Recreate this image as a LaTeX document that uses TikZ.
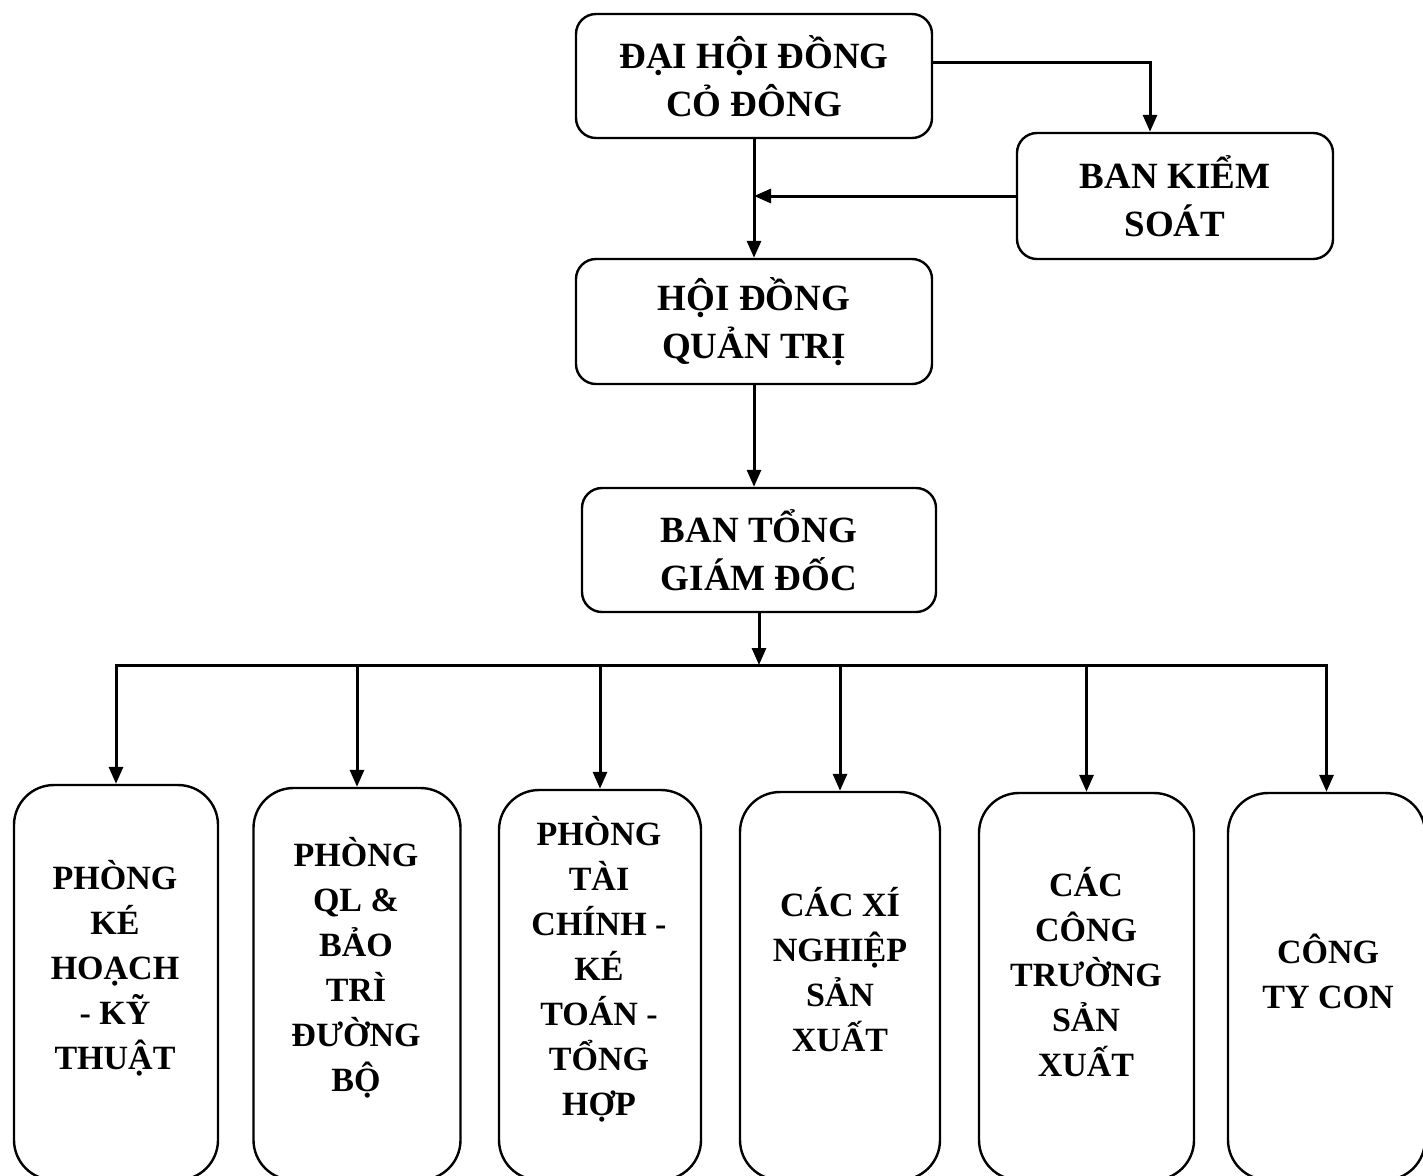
\documentclass[tikz,border=0pt]{standalone}
\usepackage{fontspec}
\setmainfont{Liberation Serif}
\usetikzlibrary{arrows.meta}
\begin{document}
\begin{tikzpicture}[x=0.5pt,y=-0.5pt,
  topbox/.style={draw, line width=1.2pt, rounded corners=10pt, align=center,
    font=\bfseries\fontsize{18.5}{24}\selectfont, inner sep=0pt},
  lowbox/.style={draw, line width=1.2pt, rounded corners=20pt, inner sep=0pt},
  lowtxt/.style={align=center, font=\bfseries\fontsize{17}{22.5}\selectfont, inner sep=0pt},
  conn/.style={line width=1.5pt, line cap=rect},
  arr/.style={conn, -{Triangle[length=8.5pt,width=7pt]}}]
\useasboundingbox (0,0) rectangle (1423,1175);
\clip (0,0) rectangle (1423,1175);
\fill[white] (0,0) rectangle (1423,1175);
% top boxes
\node[topbox, minimum width=178pt, minimum height=62pt] (dh) at (754,76) {ĐẠI HỘI ĐỒNG\\CỎ ĐÔNG};
\node[topbox, minimum width=158pt, minimum height=63pt] (bks) at (1175,196) {BAN KIỂM\\SOÁT};
\node[topbox, minimum width=178pt, minimum height=62.5pt] (hd) at (754,321.5) {HỘI ĐỒNG\\QUẢN TRỊ};
\node[topbox, minimum width=177pt, minimum height=62pt] (tg) at (759,550) {BAN TỔNG\\GIÁM ĐỐC};
% bottom boxes
\node[lowbox, minimum width=102pt, minimum height=197.5pt] (b1) at (116,982.5) {};
\node[lowbox, minimum width=103.5pt, minimum height=196pt] (b2) at (357,984) {};
\node[lowbox, minimum width=101pt, minimum height=195pt] (b3) at (600,985) {};
\node[lowbox, minimum width=100pt, minimum height=194pt] (b4) at (840,986) {};
\node[lowbox, minimum width=107.5pt, minimum height=193.5pt] (b5) at (1086.5,986.5) {};
\node[lowbox, minimum width=98.5pt, minimum height=193.5pt] (b6) at (1326.5,986.5) {};
% texts
\node[lowtxt] (t1) at (115,968) {PHÒNG\\KÉ\\HOẠCH\\- KỸ\\THUẬT};
\node[lowtxt] (t2) at (356,968) {PHÒNG\\QL \&\\BẢO\\TRÌ\\ĐƯỜNG\\BỘ};
\node[lowtxt] (t3) at (599,969) {PHÒNG\\TÀI\\CHÍNH -\\KÉ\\TOÁN -\\TỔNG\\HỢP};
\node[lowtxt] (t4) at (840,970) {CÁC XÍ\\NGHIỆP\\SẢN\\XUẤT};
\node[lowtxt] (t5) at (1086,972) {CÁC\\CÔNG\\TRƯỜNG\\SẢN\\XUẤT};
\node[lowtxt] (t6) at (1328,971) {CÔNG\\TY CON};
% connectors
\draw[arr] (dh.south) -- (hd.north);
\draw[arr] ([yshift=7pt]dh.east) -| ([xshift=-12.5pt]bks.north);
\draw[arr] (bks.west) -- (bks.west -| dh.south);
\draw[arr] (hd.south) -- (hd.south |- tg.north);
\coordinate (bus) at (758,665);
\draw[arr] (tg.south) -- (tg.south |- bus);
\draw[conn] (b1.north |- bus) -- (b6.north |- bus);
\foreach \b in {b1,b2,b3,b4,b5,b6}{
  \draw[arr] (\b.north |- bus) -- (\b.north);
}
\end{tikzpicture}
\end{document}
